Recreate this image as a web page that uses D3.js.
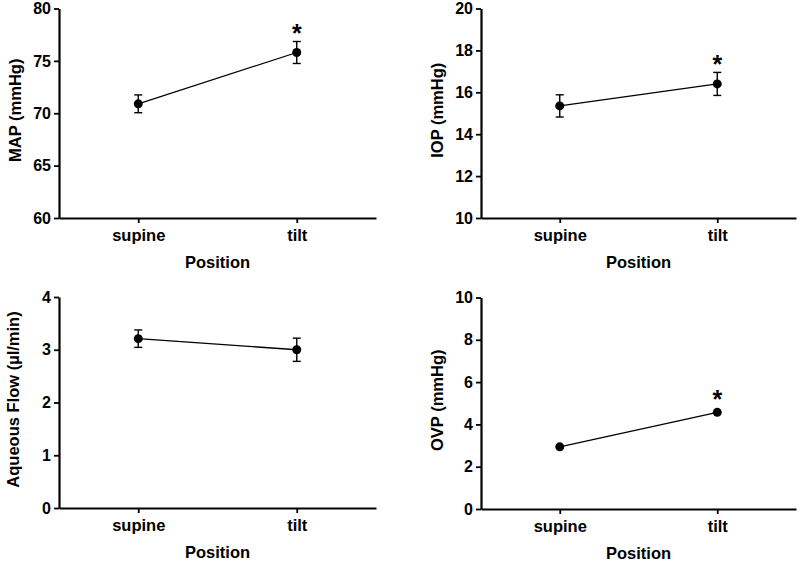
<!DOCTYPE html>
<html>
<head>
<meta charset="utf-8">
<script src="https://cdn.jsdelivr.net/npm/d3@7"></script>
<style>
  html, body { margin: 0; padding: 0; background: #fff; }
  svg { display: block; }
  text { font-family: "Liberation Sans", Arial, Helvetica, sans-serif; font-weight: bold; fill: #000; }
</style>
</head>
<body>
<svg id="chart" width="800" height="561"></svg>
<script>
// ---------- data ----------
const categories = ["supine", "tilt"];

const mapMean = [70.9, 75.8];
const mapErr  = [0.85, 1.05];
const mapSig  = [false, true];
const mapTicks = [60, 65, 70, 75, 80];

const iopMean = [15.35, 16.4];
const iopErr  = [0.53, 0.55];
const iopSig  = [false, true];
const iopTicks = [10, 12, 14, 16, 18, 20];

const flowMean = [3.21, 3.0];
const flowErr  = [0.165, 0.22];
const flowSig  = [false, false];
const flowTicks = [0, 1, 2, 3, 4];

const ovpMean = [2.94, 4.57];
const ovpErr  = [0, 0];
const ovpSig  = [false, true];
const ovpTicks = [0, 2, 4, 6, 8, 10];

const xTitle = "Position";
const yTitles = ["MAP (mmHg)", "IOP (mmHg)", "Aqueous Flow (\u00b5l/min)", "OVP (mmHg)"];

// ---------- layout ----------
const panels = [
  { mean: mapMean,  err: mapErr,  sig: mapSig,  ticks: mapTicks,  title: yTitles[0], x0: 59,  x1: 376, top: 8.5, bottom: 218, tdx: 0 },
  { mean: iopMean,  err: iopErr,  sig: iopSig,  ticks: iopTicks,  title: yTitles[1], x0: 481, x1: 796, top: 8.5, bottom: 218, tdx: 0 },
  { mean: flowMean, err: flowErr, sig: flowSig, ticks: flowTicks, title: yTitles[2], x0: 59,  x1: 376, top: 297, bottom: 508, tdx: -2 },
  { mean: ovpMean,  err: ovpErr,  sig: ovpSig,  ticks: ovpTicks,  title: yTitles[3], x0: 481, x1: 796, top: 297.5, bottom: 509, tdx: 0 }
];

const svg = d3.select("#chart");
const r = 4.5, capW = 4;

panels.forEach(p => {
  const g = svg.append("g");
  const x = d3.scalePoint().domain(categories).range([p.x0, p.x1]).padding(0.5);
  const y = d3.scaleLinear().domain(d3.extent(p.ticks)).range([p.bottom, p.top]);

  // y axis
  const ya = g.append("g").attr("transform", `translate(${p.x0},0)`)
    .call(d3.axisLeft(y).tickValues(p.ticks).tickSize(5).tickSizeOuter(0).tickPadding(3).tickFormat(d3.format("d")));
  // x axis
  const xa = g.append("g").attr("transform", `translate(0,${p.bottom})`)
    .call(d3.axisBottom(x).tickSize(5).tickSizeOuter(0).tickPadding(6));

  [ya, xa].forEach(a => {
    a.select(".domain").attr("stroke", "#000").attr("stroke-width", 2.2);
    a.selectAll(".tick line").attr("stroke", "#000").attr("stroke-width", 1.8);
    a.selectAll(".tick text").style("font-size", "16px").attr("fill", "#000");
  });
  xa.selectAll(".tick text").style("font-size", "16.5px");

  // titles
  g.append("text")
    .attr("x", (p.x0 + p.x1) / 2)
    .attr("y", p.bottom + 50)
    .attr("text-anchor", "middle")
    .style("font-size", "16.5px")
    .text(xTitle);

  g.append("text")
    .attr("transform", `translate(${p.x0 - 38 + p.tdx},${(p.top + p.bottom) / 2 - 3}) rotate(-90)`)
    .attr("text-anchor", "middle")
    .style("font-size", "16.5px")
    .text(p.title);

  const pts = categories.map((c, i) => ({ c, m: p.mean[i], e: p.err[i], s: p.sig[i] }));

  // connecting line
  g.append("path")
    .datum(pts)
    .attr("fill", "none")
    .attr("stroke", "#000")
    .attr("stroke-width", 1.3)
    .attr("d", d3.line().x(d => x(d.c)).y(d => y(d.m)));

  // error bars
  const eb = g.selectAll(".eb").data(pts.filter(d => d.e > 0)).enter().append("g");
  eb.append("line")
    .attr("x1", d => x(d.c)).attr("x2", d => x(d.c))
    .attr("y1", d => y(d.m - d.e)).attr("y2", d => y(d.m + d.e))
    .attr("stroke", "#000").attr("stroke-width", 1.4);
  [-1, 1].forEach(sgn => {
    eb.append("line")
      .attr("x1", d => x(d.c) - capW).attr("x2", d => x(d.c) + capW)
      .attr("y1", d => y(d.m + sgn * d.e)).attr("y2", d => y(d.m + sgn * d.e))
      .attr("stroke", "#000").attr("stroke-width", 1.4);
  });

  // points
  g.selectAll(".pt").data(pts).enter().append("circle")
    .attr("cx", d => x(d.c)).attr("cy", d => y(d.m)).attr("r", r)
    .attr("fill", "#000");

  // significance asterisks
  g.selectAll(".sig").data(pts.filter(d => d.s)).enter().append("text")
    .attr("x", d => x(d.c))
    .attr("y", d => Math.min(y(d.m + d.e), y(d.m) - r) - 14 + 0.57 * 25)
    .attr("text-anchor", "middle")
    .style("font-size", "25px")
    .text("*");
});
</script>
</body>
</html>
